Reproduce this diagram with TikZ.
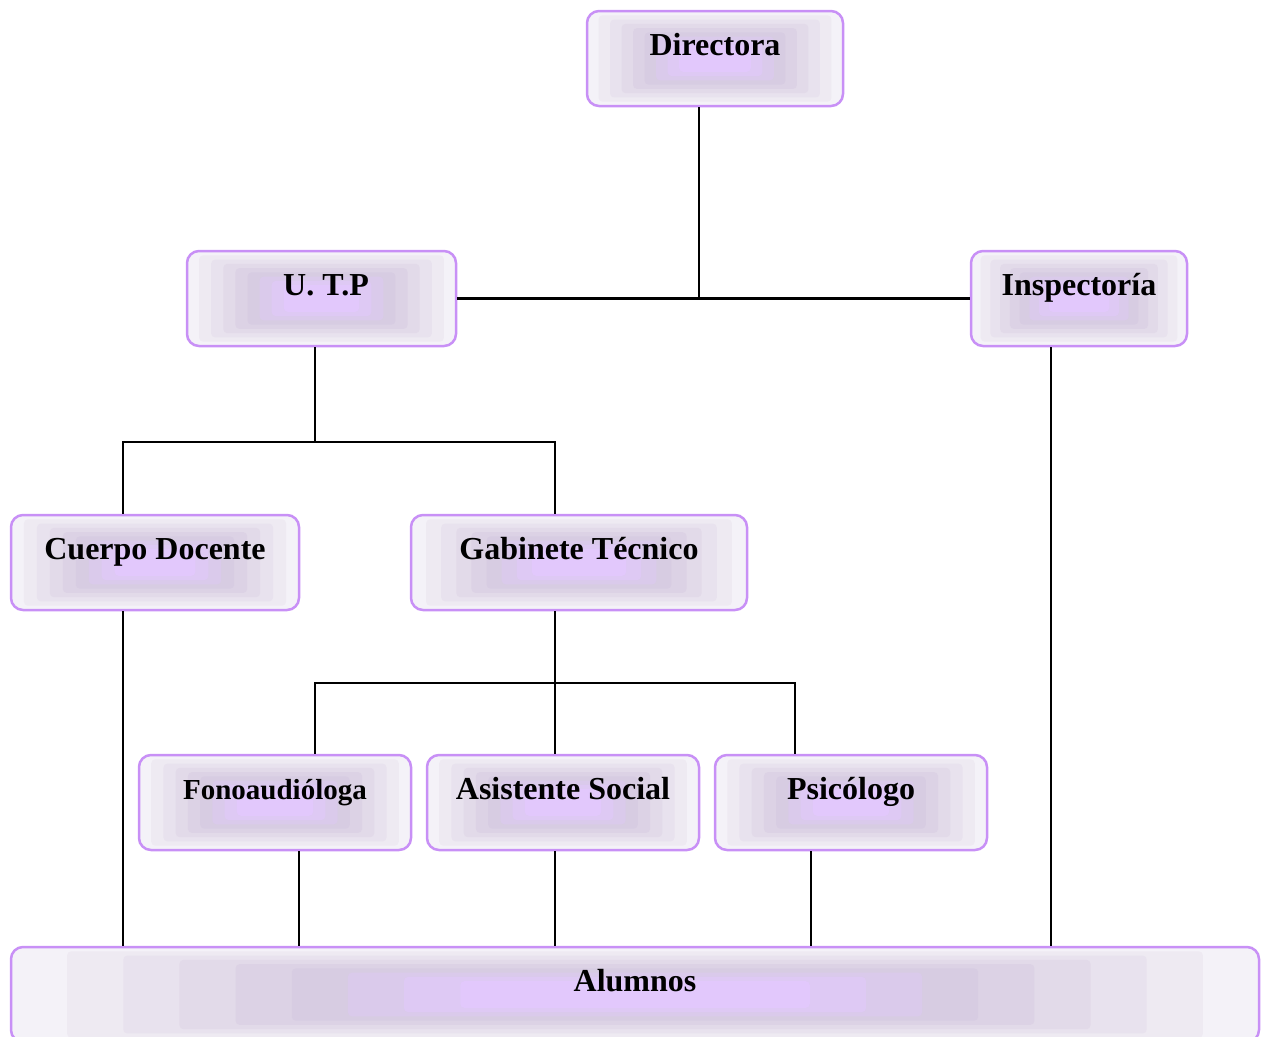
\documentclass[tikz,border=0pt]{standalone}
\usepackage{fontspec}
\setmainfont{Liberation Serif}
\usetikzlibrary{calc}
\definecolor{boxline}{HTML}{C890F6}
\begin{document}
\begin{tikzpicture}[x=1pt,y=-1pt,
  link/.style={draw=black, line width=2.4pt},
  orgbox/.style={draw=boxline, line width=2.5pt, rounded corners=12pt,
    minimum height=95pt, inner sep=0pt, text height=22pt, text depth=28pt,
    font=\fontsize{32}{36}\selectfont\bfseries,
    path picture={
      \foreach \k/\c in {0/F4F2F8,1/EEEAF2,2/E8E2EE,3/E2DAE9,4/DCD2E5,5/D7CCE2,6/DACAEB,7/DEC9F4,8/E2C8FC}{
        \pgfmathsetmacro{\f}{\k*0.045}
        \definecolor{layer}{HTML}{\c}
        \fill[layer, rounded corners=4pt]
          ($(path picture bounding box.south west)!\f!(path picture bounding box.north east)$) rectangle
          ($(path picture bounding box.north east)!\f!(path picture bounding box.south west)$);
      }
    }}]
\useasboundingbox (0,0) rectangle (1268,1036);
\clip (0,0) rectangle (1268,1036);

\node[orgbox, minimum width=256pt] (dir) at (715,58.5) {Directora};
\node[orgbox, minimum width=269pt] (utp) at (321.5,298.5) {\hspace*{9pt}U. T.P};
\node[orgbox, minimum width=216pt] (insp) at (1079,298.5) {Inspectoría};
\node[orgbox, minimum width=288pt] (cd) at (155,562.5) {Cuerpo Docente};
\node[orgbox, minimum width=336pt] (gab) at (579,562.5) {Gabinete Técnico};
\node[orgbox, minimum width=272pt, font=\fontsize{29}{34}\selectfont\bfseries] (fono) at (275,802.5) {Fonoaudióloga};
\node[orgbox, minimum width=272pt] (as) at (563,802.5) {Asistente Social};
\node[orgbox, minimum width=272pt] (psi) at (851,802.5) {Psicólogo};
\node[orgbox, minimum width=1248pt] (alum) at (635,994.5) {Alumnos};

% junctions
\coordinate (j1) at (699,298);
\coordinate (j2) at (315,442);
\coordinate (j3) at (555,683);

\draw[link] (dir.south -| j1) -- (j1);
\draw[link] (utp.east) -- (insp.west);
\draw[link] (utp.south -| j2) -- (j2);
\draw[link] ([xshift=-32pt]cd.north) |- (j2) -| ([xshift=-24pt]gab.north);
\draw[link] ([xshift=-24pt]gab.south) -- ([xshift=-8pt]as.north);
\draw[link] ([xshift=40pt]fono.north) |- (j3) -| ([xshift=-56pt]psi.north);
\foreach \n/\dx in {cd/-32, fono/24, as/-8, psi/-40, insp/-28}
  \draw[link] ([xshift=\dx pt]\n.south) -- ([xshift=\dx pt]\n.south |- alum.north);
\end{tikzpicture}
\end{document}
